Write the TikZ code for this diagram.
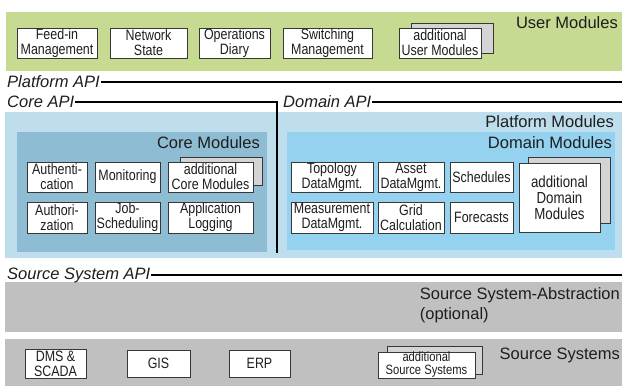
\documentclass[tikz,border=0pt]{standalone}
\usepackage{fontspec}
\setmainfont{Liberation Sans}
\newfontfamily\condfont[FakeStretch=0.83]{Liberation Sans}
\definecolor{usergreen}{RGB}{198,218,146}
\definecolor{platblue}{RGB}{190,222,238}
\definecolor{coreblue}{RGB}{142,188,211}
\definecolor{domblue}{RGB}{148,210,240}
\definecolor{srcgray}{RGB}{192,192,192}
\definecolor{backgray}{RGB}{212,212,212}
\definecolor{edgecol}{RGB}{55,55,55}
\definecolor{txtcol}{RGB}{30,30,30}
\begin{document}
\begin{tikzpicture}[x=1pt,y=-1pt,
  mod/.style={draw=edgecol, fill=white, line width=0.9pt, inner sep=0pt, align=center,
    text=txtcol, font=\condfont\fontsize{15}{15}\selectfont, minimum width=#1},
  backbox/.style={draw=edgecol, fill=backgray, line width=0.9pt, inner sep=0pt, minimum width=#1},
  lbl/.style={font=\fontsize{16.5}{20}\selectfont, inner sep=0pt, text=txtcol},
  api/.style={font=\itshape\fontsize{16.5}{18}\selectfont, inner sep=1pt, anchor=west, text=txtcol},
  apiline/.style={line width=1.6pt, black}
]
\useasboundingbox (0,0) rectangle (622,386);
\fill[white] (0,0) rectangle (622,386);

% ---------- bands / regions ----------
\fill[usergreen] (6,12) rectangle (622,71);
\fill[platblue] (5,112) rectangle (622,258);
\fill[coreblue] (17,132) rectangle (267,252);
\fill[domblue] (287,132) rectangle (615,250);
\fill[srcgray] (5,282) rectangle (622,332);
\fill[srcgray] (5,339) rectangle (622,386);

\coordinate (rightedge) at (622,0);

% ---------- User Modules ----------
\node[lbl, anchor=east] (userlbl) at (618,23) {User Modules};
\node[mod=80, minimum height=30] (feed) at (57,43) {Feed-in\\Management};
\node[mod=77, minimum height=30] (netstate) at (148.5,43) {Network\\State};
\node[mod=71, minimum height=30] (opdiary) at (234.5,43) {Operations\\Diary};
\node[mod=89, minimum height=30] (switching) at (327.5,43) {Switching\\Management};
\node[backbox=82, minimum height=30] (adduserB) at (452,38) {};
\node[mod=82, minimum height=30] (adduser) at (440,43) {additional\\User Modules};

% ---------- APIs ----------
\node[api] (platapi) at (6,82) {Platform API};
\draw[apiline] (platapi.east) -- (platapi.east -| rightedge);

\node[api] (coreapi) at (6,102) {Core API};
\coordinate (corebot) at (277,253);
\draw[apiline] (coreapi.east) -| (corebot);

\node[api] (domapi) at (282,102) {Domain API};
\draw[apiline] (domapi.east) -- (domapi.east -| rightedge);

% ---------- Platform / Core / Domain ----------
\node[lbl, anchor=east] (platlbl) at (614,122) {Platform Modules};
\node[lbl, anchor=east] (corelbl) at (260,143) {Core Modules};
\node[lbl, anchor=east] (domlbl) at (612,143) {Domain Modules};

\node[mod=60, minimum height=30] (auth) at (57,177) {Authenti-\\cation};
\node[mod=65, minimum height=30] (monitor) at (127.5,177) {Monitoring};
\node[backbox=82, minimum height=28] (addcoreB) at (221,171) {};
\node[mod=85, minimum height=30] (addcore) at (210.5,177) {additional\\Core Modules};
\node[mod=60, minimum height=31] (authz) at (57,217.5) {Authori-\\zation};
\node[mod=65, minimum height=31] (jobsched) at (127.5,217.5) {Job-\\Scheduling};
\node[mod=85, minimum height=31] (applog) at (210.5,217.5) {Application\\Logging};

\node[mod=82, minimum height=30] (topo) at (332,177) {Topology\\DataMgmt.};
\node[mod=66, minimum height=30] (asset) at (411,177) {Asset\\DataMgmt.};
\node[mod=63, minimum height=30] (sched) at (481.5,177) {Schedules};
\node[mod=82, minimum height=31] (meas) at (332,217.5) {Measurement\\DataMgmt.};
\node[mod=66, minimum height=31] (grid) at (411,217.5) {Grid\\Calculation};
\node[mod=63, minimum height=31] (fore) at (481.5,217.5) {Forecasts};
\node[backbox=82, minimum height=66] (adddomB) at (569,190) {};
\node[mod=81, minimum height=69, font=\condfont\fontsize{16}{16}\selectfont] (adddom) at (559.5,197.5) {additional\\Domain\\Modules};

% ---------- Source systems ----------
\node[api] (srcapi) at (6,275) {Source System API};
\draw[apiline] (srcapi.east) -- (srcapi.east -| rightedge);

\node[lbl, anchor=base east] (ssa) at (620,299) {Source System-Abstraction};
\node[lbl, anchor=base west] (optl) at ([yshift=-20pt]ssa.base west) {(optional)};

\node[lbl, anchor=east] (srclbl) at (620,355) {Source Systems};
\node[mod=61, minimum height=29] (dms) at (55.5,363.5) {DMS \&\\SCADA};
\node[mod=63, minimum height=27] (gis) at (158.5,363.5) {GIS};
\node[mod=61, minimum height=27] (erp) at (259.5,363.5) {ERP};
\node[backbox=95, minimum height=28] (addsrcB) at (434.5,360) {};
\node[mod=97, minimum height=26, font=\condfont\fontsize{13.5}{13}\selectfont] (addsrc) at (426.5,365) {additional\\Source Systems};
\end{tikzpicture}
\end{document}
